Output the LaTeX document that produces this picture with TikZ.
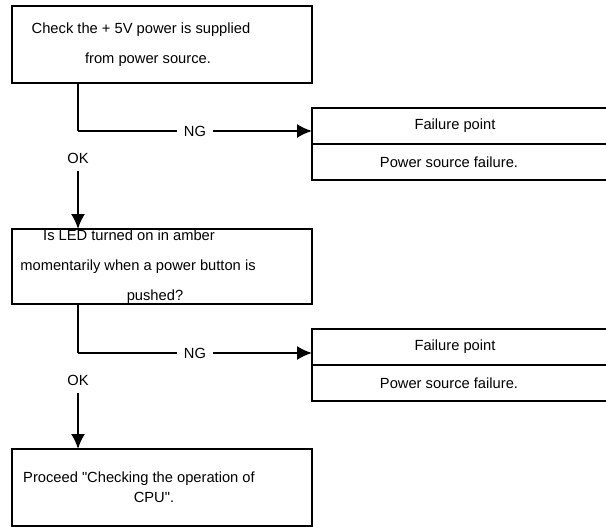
\documentclass[tikz,border=0pt]{standalone}
\usepackage{fontspec}
\setmainfont{Liberation Sans}
\usetikzlibrary{arrows.meta,positioning}

\tikzstyle{stepbox} = [rectangle, draw=black, line width=1.9pt, outer sep=0pt, inner sep=0pt, minimum width=300pt, minimum height=77pt, align=center, font=\fontsize{14.7}{30}\selectfont]
\tikzstyle{failbox} = [rectangle, draw=black, line width=1.9pt, outer sep=0pt, inner sep=0pt, minimum width=300pt, minimum height=36pt, font=\fontsize{14.7}{17}\selectfont]
\tikzstyle{lbl}  = [fill=white, inner sep=7pt, font=\fontsize{14.7}{17}\selectfont]
\tikzstyle{tline}  = [draw, line width=1.8pt]
\tikzstyle{tedge}  = [draw, line width=1.8pt, -{Latex[length=15pt,width=14pt]}]

\begin{document}
\begin{tikzpicture}[x=1pt, y=1pt]

\useasboundingbox (0,0) rectangle (606,-527);
\clip (0,0) rectangle (606,-527);

% check steps =============================

\node[stepbox, anchor=north west] (power) at (12,-6) {Check the + 5V power is supplied\hspace*{42pt}\null\\from power source.\hspace*{28pt}\null};
\node[stepbox, minimum height=75pt, below=146pt of power] (led) {Is LED turned on in amber\hspace*{66pt}\null\\momentarily when a power button is\hspace*{48pt}\null\\pushed?\hspace*{14pt}\null};
\node[stepbox, below=145pt of led, font=\fontsize{14.7}{20}\selectfont] (cpu) {Proceed \textquotedbl Checking the operation of\hspace*{46pt}\null\\CPU\textquotedbl.\hspace*{16pt}\null};

% failure points
\node[failbox, below right=25pt and 0pt of power.south east] (fail1a) {Failure point\hspace*{14pt}\null};
\node[failbox, below=0pt of fail1a] (fail1b) {Power source failure.\hspace*{26pt}\null};
\node[failbox, below right=25pt and 0pt of led.south east] (fail2a) {Failure point\hspace*{14pt}\null};
\node[failbox, below=0pt of fail2a] (fail2b) {Power source failure.\hspace*{26pt}\null};

% branch points
\coordinate (c1) at ([xshift=66pt]power.south west);
\coordinate[below=48pt of c1] (n1);
\node[lbl, below=15pt of n1] (ok1) {OK};

\coordinate (c2) at ([xshift=66pt]led.south west);
\coordinate[below=49pt of c2] (n2);
\node[lbl, below=15pt of n2] (ok2) {OK};

%edges
\path[tline] (c1) -- (n1);
\path[tedge] (n1) -- node[lbl, inner ysep=2pt] {NG} (n1 -| fail1a.west);
\path[tedge] (ok1) -- (led.north -| ok1);

\path[tline] (c2) -- (n2);
\path[tedge] (n2) -- node[lbl, inner ysep=2pt] {NG} (n2 -| fail2a.west);
\path[tedge] (ok2) -- (cpu.north -| ok2);

\end{tikzpicture}
\end{document}
